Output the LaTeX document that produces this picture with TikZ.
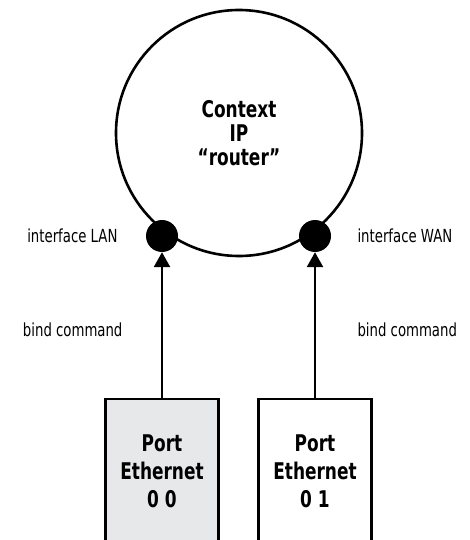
\documentclass[tikz,border=0pt]{standalone}
\usepackage{fontspec}
\setmainfont{DejaVu Sans Condensed}
\newfontfamily\narrowfont{DejaVu Sans Condensed}[FakeStretch=0.82,Ligatures=TeX]
\usetikzlibrary{arrows.meta,positioning}
\definecolor{portgray}{RGB}{231,232,234}

\begin{document}
\begin{tikzpicture}[x=1pt,y=-1pt,% styles for all parts
			every node/.style={
				align=center		% "\\" breaks lines
			},
			ctx/.style={circle,draw,line width=2.6pt,minimum size=246pt,inner sep=0pt,
				font=\narrowfont\fontsize{23}{24}\selectfont\bfseries},
			iface/.style={circle,fill=black,minimum size=32pt,inner sep=0pt},
			portbox/.style={rectangle,draw,line width=2.8pt,minimum width=113pt,minimum height=144pt,
				font=\narrowfont\fontsize{23}{28}\selectfont\bfseries},
			lbl/.style={font=\narrowfont\fontsize{18}{20}\selectfont},
			every edge/.style={draw,line width=2.6pt}
		]
		\clip (0,0) rectangle (470,540);
		\useasboundingbox (0,0) rectangle (470,540);
		\node[ctx](ctx) at (239,133){Context\\IP\\“router”};
		\node[iface](lan) at (162,236){};
		\node[iface](wan) at (315,236){};
		\node[portbox,fill=portgray](p0) at (162,471){Port\\Ethernet\\0 0};
		\node[portbox,fill=white](p1) at (315,471){Port\\Ethernet\\0 1};
		\node[lbl,anchor=east](llan) at (121,236){interface LAN};
		\node[lbl,anchor=west](lwan) at (354,236){interface WAN};
		\node[lbl,anchor=east](lbl0) at (126,330){bind command};
		\node[lbl,anchor=west](lbl1) at (354,330){bind command};
		\path[-{Triangle[length=15pt,width=16pt]}]
		(p0.north)edge [] (lan.south)
		(p1.north)edge [] (wan.south)
		;
	\end{tikzpicture}
\end{document}
